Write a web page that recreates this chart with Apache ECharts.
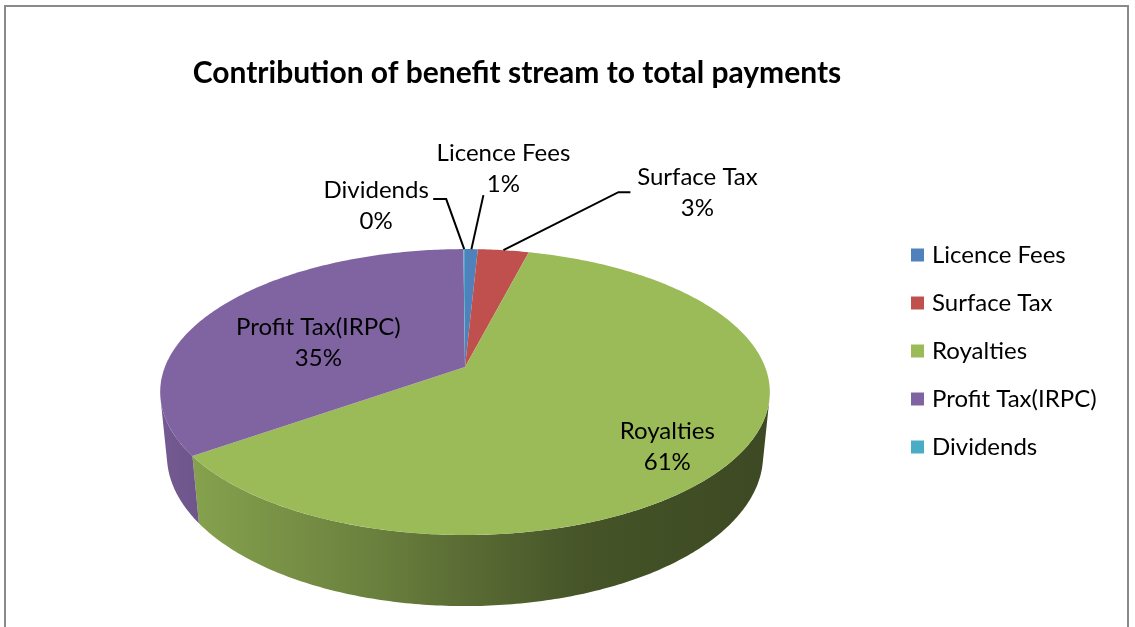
<!DOCTYPE html>
<html><head><meta charset="utf-8">
<script src="https://cdn.jsdelivr.net/npm/echarts@6/dist/echarts.min.js"></script>
<style>html,body{margin:0;padding:0;background:#fff}#c{width:1135px;height:627px}</style>
</head><body><div id="c"></div>
<script>
// ---- data ----
const categories = ['Licence Fees', 'Surface Tax', 'Royalties', 'Profit Tax(IRPC)', 'Dividends'];
const values = [0.8, 3.2, 61.2, 34.7, 0.1];
const colors = ['#4f81bd', '#c0504d', '#9bbb59', '#8064a2', '#4bacc6'];
const titleText = 'Contribution of benefit stream to total payments';

// ---- label layout (style, not data): r = radius fraction, dx/dy pixel offset, lead = leader attach, elbow ----
const labelLayout = [
  { r: 1, dx: 32, dy: -80, lead: [-20, 26], elbow: 0 },
  { r: 1, dx: 194, dy: -57, lead: [-67, -1], elbow: -12 },
  { r: 0.75, dx: 2, dy: 16 },
  { r: 0.55, dx: -6, dy: 9 },
  { r: 1, dx: -88, dy: -43, lead: [57, -7], elbow: 13 }
];

const FONT = 'Lato, "Open Sans", sans-serif';
const total = values.reduce((a, b) => a + b, 0);
const starts = [];
let acc = 0;
values.forEach(v => { starts.push(acc); acc += v; });
const sliceData = values.map((v, i) => ({ name: categories[i], value: [1, starts[i], starts[i] + v] }));

// perspective camera parameters
const ALPHA = 27.5 * Math.PI / 180, SA = Math.sin(ALPHA), CA = Math.cos(ALPHA);
const DIST = 5.065, FOC = 1520, DEPTH = 0.24;
const visCos = -1 / (DIST * CA);           // side faces visible where cos(theta) < visCos
const visLo = total * Math.acos(visCos) / (2 * Math.PI);
const visHi = total - visLo;

function shade(hex, f) {
  const n = parseInt(hex.slice(1), 16);
  const r = Math.round(((n >> 16) & 255) * f), g = Math.round(((n >> 8) & 255) * f), b = Math.round((n & 255) * f);
  return 'rgb(' + r + ',' + g + ',' + b + ')';
}
const shadeStops = [[0, 0.9], [0.06, 0.86], [0.36, 0.68], [0.5, 0.58], [0.69, 0.45], [1, 0.39]];

function makeGeom(api) {
  const C = api.coord([0, 0]);
  const top = api.coord([1, 0]);
  const R = C[1] - top[1];
  function unit(a) {
    const p = api.coord([1, a]);
    return { s: (p[0] - C[0]) / R, c: (C[1] - p[1]) / R };
  }
  function proj(X, Y, Z) {
    const zv = DIST + Z * CA - Y * SA;
    return [C[0] + FOC * X / zv, C[1] - FOC * (Z * SA + Y * CA) / zv];
  }
  return { C, unit, proj };
}

function renderSlice(params, api) {
  const i = params.dataIndex;
  const a0 = api.value(1), a1 = api.value(2);
  const g = makeGeom(api);
  const children = [];
  // side wall
  const lo = Math.max(a0, visLo), hi = Math.min(a1, visHi);
  if (hi > lo) {
    const n = Math.max(2, Math.ceil((hi - lo) / 0.2));
    const upper = [], lower = [];
    for (let k = 0; k <= n; k++) {
      const u = g.unit(lo + (hi - lo) * k / n);
      upper.push(g.proj(u.s, 0, u.c));
      lower.push(g.proj(u.s, -DEPTH, u.c));
    }
    const uL = g.unit(visHi), uR = g.unit(visLo);
    const xL = g.proj(uL.s, 0, uL.c)[0], xR = g.proj(uR.s, 0, uR.c)[0];
    children.push({
      type: 'polygon',
      shape: { points: upper.concat(lower.reverse()) },
      style: {
        fill: {
          type: 'linear', x: xL, y: 0, x2: xR, y2: 0, global: true,
          colorStops: shadeStops.map(s => ({ offset: s[0], color: shade(colors[i], s[1]) }))
        },
        stroke: null
      }
    });
  }
  // top face
  const n = Math.max(2, Math.ceil((a1 - a0) / 0.2));
  const pts = [g.proj(0, 0, 0)];
  for (let k = 0; k <= n; k++) {
    const u = g.unit(a0 + (a1 - a0) * k / n);
    pts.push(g.proj(u.s, 0, u.c));
  }
  children.push({ type: 'polygon', shape: { points: pts }, style: { fill: colors[i], stroke: null } });
  return { type: 'group', children };
}

function renderLabel(params, api) {
  const i = params.dataIndex;
  const a0 = api.value(1), a1 = api.value(2);
  const g = makeGeom(api);
  const L = labelLayout[i];
  const u = g.unit((a0 + a1) / 2);
  const anchor = g.proj(u.s * L.r, 0, u.c * L.r);
  const cx = anchor[0] + L.dx, cy = anchor[1] + L.dy;
  const pct = Math.round(values[i] / total * 100) + '%';
  const children = [{
    type: 'text',
    style: {
      text: categories[i] + '\n' + pct, x: cx, y: cy,
      align: 'center', verticalAlign: 'middle',
      fontFamily: FONT, fontSize: 24, lineHeight: 31, fill: '#000'
    }
  }];
  if (L.lead) {
    const E = [cx + L.lead[0], cy + L.lead[1]];
    const pts = [anchor];
    if (L.elbow) pts.push([E[0] + L.elbow, E[1]]);
    pts.push(E);
    children.push({ type: 'polyline', shape: { points: pts }, style: { stroke: '#000', lineWidth: 2, fill: null } });
  }
  return { type: 'group', children };
}

const chart = echarts.init(document.getElementById('c'), null, { renderer: 'canvas' });
chart.setOption({
  backgroundColor: '#fff',
  animation: false,
  title: {
    text: titleText, left: 512, top: 53, textAlign: 'center',
    textStyle: { fontFamily: FONT, fontSize: 30, fontWeight: 'bold', color: '#000' }
  },
  legend: {
    orient: 'vertical', left: 911, top: 240, padding: 0,
    itemWidth: 13, itemHeight: 13, itemGap: 18, icon: 'rect',
    data: categories,
    textStyle: { fontFamily: FONT, fontSize: 24, color: '#000', lineHeight: 30, padding: [0, 0, 0, 3] }
  },
  polar: { center: [465, 367], radius: 100 },
  angleAxis: { type: 'value', min: 0, max: total, startAngle: 90, clockwise: true, show: false },
  radiusAxis: { type: 'value', min: 0, max: 1, show: false },
  graphic: [{
    type: 'rect', shape: { x: 5, y: 6, width: 1123, height: 700 },
    style: { fill: null, stroke: '#8a8a8a', lineWidth: 2 }, z: 100, silent: true
  }],
  series: [
    {
      type: 'custom', coordinateSystem: 'polar', renderItem: renderSlice, data: sliceData,
      silent: true, z: 2
    },
    {
      type: 'custom', coordinateSystem: 'polar', renderItem: renderLabel, data: sliceData,
      silent: true, z: 5
    },
    {
      type: 'pie', center: [-500, -500], radius: 1, silent: true,
      label: { show: false }, labelLine: { show: false },
      data: categories.map((c, i) => ({ name: c, value: values[i], itemStyle: { color: colors[i] } }))
    }
  ]
});
</script>
</body></html>
